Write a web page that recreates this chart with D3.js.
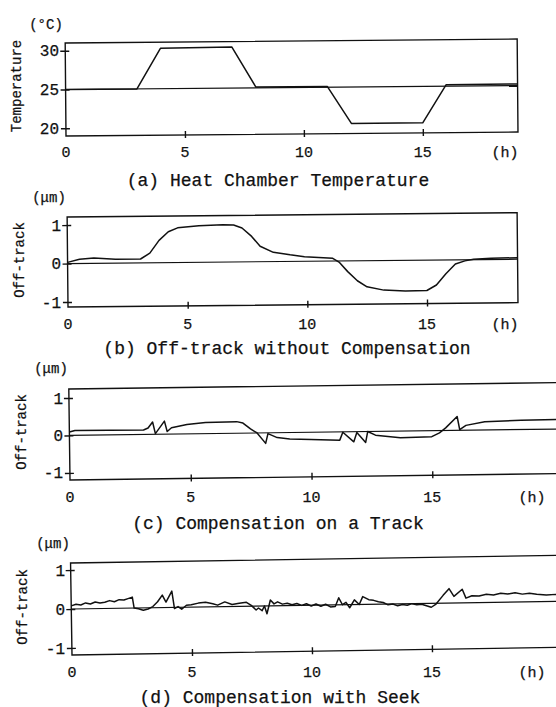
<!DOCTYPE html>
<html>
<head>
<meta charset="utf-8">
<script src="https://cdn.jsdelivr.net/npm/d3@7"></script>
<style>
  html, body { margin: 0; padding: 0; background: #fff; }
  svg { display: block; }
  text { font-family: "Liberation Mono", "DejaVu Sans Mono", monospace; fill: #111; stroke: #111; stroke-width: 0.25; }
  .frame, .axis line { stroke: #111; stroke-width: 1.4; fill: none; }
  .ref { stroke: #111; stroke-width: 1.2; fill: none; }
  .trace { stroke: #111; stroke-width: 1.5; fill: none; stroke-linejoin: round; }
</style>
</head>
<body>
<script>
// hour ticks shared by all four panels
const hourTicks = [0, 5, 10, 15];
const tempTicks = [20, 25, 30];
const offTicks = [-1, 0, 1];

// (a) heat chamber temperature, [hour, degC]
const tempData = [
  [0, 25], [3, 25], [4, 30.2], [7, 30.3], [8, 25.1], [11, 25.1],
  [12, 20.3], [15, 20.3], [16, 25.2], [19, 25.2],
];

// (b) off-track without compensation, [hour, um]
const offNoComp = [
  [0, 0.03], [0.5, 0.11], [1.1, 0.14], [2, 0.1], [3.05, 0.1], [3.44, 0.25],
  [3.83, 0.58], [4.22, 0.8], [4.61, 0.9], [5.5, 0.95], [6.5, 0.97], [6.95, 0.96],
  [7.3, 0.88], [7.7, 0.66], [8.05, 0.4], [8.6, 0.24], [9.3, 0.17], [9.9, 0.12],
  [11.08, 0.07], [11.34, -0.03], [11.7, -0.28], [12.1, -0.52], [12.5, -0.68],
  [13.2, -0.77], [14.1, -0.8], [15, -0.79], [15.4, -0.65], [15.8, -0.36],
  [16.2, -0.11], [16.6, -0.03], [16.96, 0.01], [17.7, 0.03], [18.8, 0.04],
];

// (c) compensation on a track, [hour, um]
const offTrackComp = [
  [0, 0.09], [0.23, 0.13], [3.07, 0.12], [3.26, 0.17], [3.45, 0.33], [3.56, 0.02],
  [3.94, 0.35], [4.05, 0.07], [4.23, 0.17], [4.87, 0.25], [5.64, 0.3], [6.93, 0.31],
  [7.19, 0.27], [7.5, 0.11], [7.77, 0.0], [8.12, -0.28], [8.22, -0.02], [8.6, -0.13],
  [9.12, -0.17], [10, -0.19], [11.19, -0.22], [11.32, -0.01], [11.77, -0.27],
  [11.9, -0.02], [12.26, -0.29], [12.35, 0.0], [12.67, -0.1], [13.7, -0.18],
  [15, -0.16], [15.32, -0.06], [15.58, 0.07], [16.06, 0.37], [16.16, 0.02],
  [16.42, 0.13], [17.2, 0.22], [18.7, 0.25], [20.7, 0.26],
];

// (d) compensation with seek, [hour, um]
const offSeekComp = [
  [0, 0.08], [0.2, 0.12], [0.4, 0.1], [0.6, 0.15], [0.8, 0.12], [1.0, 0.17],
  [1.2, 0.14], [1.4, 0.16], [1.6, 0.2], [1.8, 0.17], [2.0, 0.22], [2.2, 0.21],
  [2.4, 0.25], [2.55, 0.28], [2.62, 0.0], [2.8, -0.02], [3.0, -0.06], [3.2, -0.03],
  [3.4, 0.03], [3.6, 0.15], [3.8, 0.32], [3.95, 0.14], [4.2, 0.42], [4.3, -0.03],
  [4.45, 0.02], [4.6, -0.05], [4.8, 0.05], [5.0, 0.06], [5.3, 0.1], [5.6, 0.12],
  [5.9, 0.08], [6.1, 0.04], [6.4, 0.12], [6.7, 0.05], [7.0, 0.08], [7.3, 0.1],
  [7.5, 0.02], [7.7, -0.1], [7.8, -0.05], [7.95, -0.12], [8.05, 0.0], [8.15, -0.2],
  [8.3, 0.15], [8.45, 0.05], [8.6, 0.1], [8.8, 0.04], [9.0, 0.06], [9.2, 0.02],
  [9.4, 0.05], [9.6, 0.0], [9.8, 0.04], [10.0, -0.02], [10.2, 0.03], [10.4, -0.03],
  [10.6, 0.02], [10.8, -0.05], [11.0, -0.04], [11.15, 0.18], [11.3, 0.0],
  [11.45, 0.06], [11.6, -0.08], [11.8, 0.12], [12.0, 0.0], [12.15, 0.2], [12.4, 0.12],
  [12.6, 0.1], [12.8, 0.06], [13.0, 0.04], [13.2, -0.02], [13.4, 0.0], [13.6, -0.05],
  [13.8, -0.02], [14.0, -0.04], [14.2, 0.0], [14.4, -0.03], [14.6, -0.02],
  [14.8, -0.06], [15.0, -0.1], [15.2, -0.02], [15.5, 0.2], [15.75, 0.37],
  [15.95, 0.17], [16.3, 0.35], [16.45, 0.12], [16.7, 0.18], [17.0, 0.17], [17.3, 0.21],
  [17.6, 0.19], [17.9, 0.23], [18.2, 0.21], [18.5, 0.24], [18.8, 0.2], [19.1, 0.22],
  [19.4, 0.19], [19.8, 0.17], [20.2, 0.18], [20.7, 0.17],
];

const W = 556, H = 707;

// layout per panel (pixel boxes; the scan is slightly tilted)
const panels = [
  { data: tempData, ref: 25, yDom: [19, 31], yTicks: tempTicks, xMax: 19,
    left: 66, right: 518, top: 43, bottom: 136, tilt: -0.5,
    unit: '(°C)', unitX: 46, unitY: 29, ylab: 'Temperature', ylabX: 16, ylabY: 86,
    xlabY: 157, hX: 505, cap: '(a) Heat Chamber Temperature', capX: 278, capY: 186 },
  { data: offNoComp, ref: 0, yDom: [-1.13, 1.21], yTicks: offTicks, xMax: 18.8,
    left: 68, right: 518, top: 217, bottom: 307, tilt: -0.55,
    unit: '(μm)', unitX: 49, unitY: 202, ylab: 'Off-track', ylabX: 19, ylabY: 260,
    xlabY: 329, hX: 505, cap: '(b) Off-track without Compensation', capX: 287, capY: 354 },
  { data: offTrackComp, ref: 0, yDom: [-1.19, 1.24], yTicks: offTicks, xMax: 20.7,
    left: 70, right: 570, top: 389, bottom: 480, tilt: -0.75,
    unit: '(μm)', unitX: 51, unitY: 373, ylab: 'Off-track', ylabX: 21, ylabY: 432,
    xlabY: 502, hX: 532, cap: '(c) Compensation on a Track', capX: 278, capY: 529 },
  { data: offSeekComp, ref: 0, yDom: [-1.18, 1.18], yTicks: offTicks, xMax: 20.75,
    left: 72, right: 570, top: 563, bottom: 655, tilt: -0.9,
    unit: '(μm)', unitX: 53, unitY: 548, ylab: 'Off-track', ylabX: 22, ylabY: 607,
    xlabY: 677, hX: 532, cap: '(d) Compensation with Seek', capX: 280, capY: 703 },
];

const svg = d3.select('body').append('svg')
  .attr('width', W).attr('height', H)
  .attr('viewBox', `0 0 ${W} ${H}`);

panels.forEach((p) => {
  const x = d3.scaleLinear().domain([0, p.xMax]).range([p.left, p.right]);
  const y = d3.scaleLinear().domain(p.yDom).range([p.bottom, p.top]);

  // plot area, rotated a little around its lower-left corner like the scan
  const g = svg.append('g')
    .attr('transform', `rotate(${p.tilt},${p.left},${p.bottom})`);

  g.append('rect').attr('class', 'frame')
    .attr('x', p.left).attr('y', p.top)
    .attr('width', p.right - p.left).attr('height', p.bottom - p.top);

  g.append('line').attr('class', 'ref')
    .attr('x1', x(0)).attr('x2', x(p.xMax))
    .attr('y1', y(p.ref)).attr('y2', y(p.ref));

  // crossing tick marks, no labels (labels go on unrotated below)
  const yAx = g.append('g').attr('class', 'axis')
    .attr('transform', `translate(${p.left},0)`)
    .call(d3.axisLeft(y).tickValues(p.yTicks).tickFormat(''));
  yAx.select('.domain').remove();
  yAx.selectAll('.tick line').attr('x1', -5).attr('x2', 4);

  const xAx = g.append('g').attr('class', 'axis')
    .attr('transform', `translate(0,${p.bottom})`)
    .call(d3.axisBottom(x).tickValues(hourTicks.filter((t) => t > 0)).tickFormat(''));
  xAx.select('.domain').remove();
  xAx.selectAll('.tick line').attr('y1', -4).attr('y2', 3);

  const line = d3.line().x((d) => x(d[0])).y((d) => y(d[1]));
  g.append('path').attr('class', 'trace').attr('d', line(p.data));

  // text
  svg.selectAll(null).data(p.yTicks).enter().append('text')
    .attr('x', p.left - 7).attr('y', (d) => y(d)).attr('dy', '0.35em')
    .attr('text-anchor', 'end').attr('font-size', 16)
    .text((d) => d3.format('d')(d).replace('−', '-'));

  svg.selectAll(null).data(hourTicks).enter().append('text')
    .attr('x', (d) => x(d)).attr('y', p.xlabY)
    .attr('text-anchor', 'middle').attr('font-size', 15)
    .text((d) => d);

  svg.append('text').attr('x', p.hX).attr('y', p.xlabY)
    .attr('text-anchor', 'middle').attr('font-size', 15).text('(h)');

  svg.append('text').attr('x', p.unitX).attr('y', p.unitY)
    .attr('text-anchor', 'middle').attr('font-size', 14).text(p.unit);

  svg.append('text')
    .attr('transform', `translate(${p.ylabX},${p.ylabY}) rotate(-90)`)
    .attr('dy', '0.35em')
    .attr('text-anchor', 'middle').attr('font-size', 14).text(p.ylab);

  svg.append('text').attr('x', p.capX).attr('y', p.capY)
    .attr('text-anchor', 'middle').attr('font-size', 18).text(p.cap);
});
</script>
</body>
</html>
